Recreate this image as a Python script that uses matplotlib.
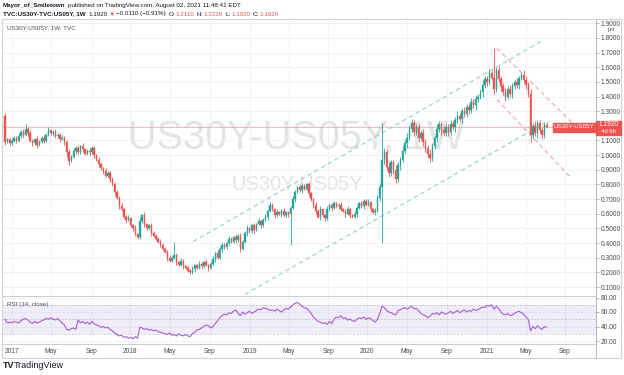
import matplotlib
matplotlib.use("Agg")
import matplotlib.pyplot as plt
from matplotlib.patches import Rectangle

plt.rcParams['font.family'] = ['Liberation Sans', 'DejaVu Sans']

# weekly US30Y-US05Y spread, pct
first_open = 1.27
close = [
    1.09, 1.11, 1.08, 1.10, 1.12, 1.10, 1.13, 1.16, 1.14, 1.18,
    1.15, 1.10, 1.08, 1.11, 1.07, 1.09, 1.12, 1.10, 1.14, 1.17,
    1.15, 1.16, 1.13, 1.14, 1.11, 1.12, 1.09, 1.02, 0.96, 0.99,
    1.03, 1.05, 1.02, 1.06, 1.04, 1.01, 1.03, 1.02, 1.05, 1.00,
    0.97, 0.94, 0.91, 0.89, 0.86, 0.88, 0.84, 0.80, 0.75, 0.71,
    0.65, 0.63, 0.58, 0.56, 0.57, 0.52, 0.50, 0.46, 0.44, 0.55,
    0.59, 0.53, 0.50, 0.52, 0.47, 0.45, 0.43, 0.41, 0.39, 0.36,
    0.34, 0.30, 0.28, 0.30, 0.32, 0.27, 0.25, 0.28, 0.24, 0.23,
    0.21, 0.20, 0.22, 0.25, 0.23, 0.26, 0.24, 0.27, 0.25, 0.23,
    0.26, 0.29, 0.33, 0.30, 0.36, 0.39, 0.37, 0.40, 0.43, 0.41,
    0.44, 0.42, 0.45, 0.36, 0.41, 0.47, 0.50, 0.48, 0.52, 0.49,
    0.53, 0.55, 0.52, 0.56, 0.58, 0.62, 0.66, 0.63, 0.59, 0.61,
    0.60, 0.62, 0.59, 0.61, 0.60, 0.64, 0.70, 0.75, 0.78, 0.76,
    0.79, 0.77, 0.80, 0.74, 0.70, 0.66, 0.62, 0.58, 0.63, 0.59,
    0.57, 0.63, 0.66, 0.64, 0.67, 0.65, 0.66, 0.63, 0.62, 0.60,
    0.63, 0.59, 0.58, 0.60, 0.64, 0.67, 0.65, 0.69, 0.66, 0.68,
    0.63, 0.61, 0.62, 0.71, 0.78, 0.97, 1.02, 0.92, 0.88, 0.95,
    0.90, 0.84, 0.93, 0.97, 1.03, 1.08, 1.12, 1.18, 1.22, 1.16,
    1.19, 1.12, 1.15, 1.09, 1.05, 1.01, 0.98, 1.06, 1.12, 1.18,
    1.21, 1.17, 1.15, 1.19, 1.16, 1.21, 1.19, 1.24, 1.27, 1.25,
    1.30, 1.28, 1.33, 1.31, 1.36, 1.34, 1.38, 1.40, 1.43, 1.48,
    1.52, 1.50, 1.56, 1.53, 1.45, 1.58, 1.52, 1.47, 1.43, 1.40,
    1.45, 1.42, 1.47, 1.50, 1.48, 1.53, 1.55, 1.51, 1.48, 1.42,
    1.14, 1.20, 1.15, 1.22, 1.17, 1.14, 1.203, 1.192,
]
# wick lengths above / below the body, in hundredths
up_wick = [
    2, 1, 1, 2, 1, 1, 2, 1, 2, 3,  1, 2, 1, 1, 2, 1, 1, 2, 1, 2,
    1, 1, 2, 1, 1, 2, 1, 1, 2, 1,  2, 1, 1, 1, 2, 1, 1, 2, 1, 1,
    1, 2, 1, 1, 2, 1, 1, 1, 2, 1,  1, 2, 1, 1, 2, 1, 1, 2, 1, 3,
    1, 2, 1, 1, 2, 1, 1, 1, 2, 1,  1, 1, 2, 1, 9, 1, 1, 2, 1, 1,
    1, 1, 2, 1, 1, 2, 1, 1, 2, 1,  1, 2, 1, 2, 1, 2, 1, 1, 2, 1,
    1, 2, 1, 2, 1, 1, 2, 1, 1, 2,  1, 2, 1, 1, 2, 1, 2, 1, 1, 2,
    1, 1, 2, 1, 1, 1, 2, 1, 1, 2,  2, 1, 1, 2, 1, 1, 2, 1, 2, 1,
    1, 2, 1, 1, 2, 1, 1, 2, 1, 1,  2, 1, 1, 2, 1, 1, 2, 1, 1, 2,
    1, 1, 2, 2, 3, 25, 3, 2, 3, 2,  2, 3, 2, 2, 3, 2, 3, 2, 3, 2,
    2, 3, 2, 3, 2, 2, 3, 2, 2, 3,  2, 2, 3, 2, 2, 3, 2, 2, 3, 2,
    2, 3, 2, 2, 3, 2, 3, 2, 2, 3,  2, 2, 3, 2, 20, 2, 3, 2, 2, 3,
    2, 3, 2, 2, 3, 1, 2, 3, 2, 2,  3, 2, 3, 2, 2, 2, 2, 2,
]
dn_wick = [
    2, 1, 2, 1, 1, 2, 1, 1, 2, 1,  2, 1, 2, 1, 2, 1, 1, 2, 1, 1,
    1, 2, 1, 1, 2, 1, 2, 3, 3, 1,  1, 2, 1, 1, 2, 1, 1, 2, 1, 2,
    1, 2, 1, 2, 1, 1, 2, 1, 2, 1,  2, 1, 1, 2, 1, 1, 2, 1, 1, 1,
    1, 2, 1, 1, 2, 1, 1, 1, 2, 1,  1, 2, 1, 1, 1, 2, 1, 1, 2, 1,
    1, 1, 1, 2, 1, 1, 2, 1, 1, 2,  1, 1, 2, 1, 1, 2, 1, 1, 2, 1,
    1, 2, 1, 2, 1, 1, 2, 1, 1, 2,  1, 1, 2, 1, 1, 2, 1, 1, 2, 1,
    1, 2, 1, 1, 2, 21, 1, 2, 1, 1,  2, 1, 1, 2, 1, 2, 2, 1, 2, 1,
    2, 1, 1, 2, 1, 1, 2, 1, 1, 2,  1, 2, 1, 1, 2, 1, 1, 2, 1, 1,
    2, 1, 2, 1, 2, 38, 3, 2, 3, 2,  3, 3, 2, 3, 2, 2, 3, 2, 2, 3,
    2, 3, 2, 3, 3, 3, 3, 2, 2, 3,  2, 3, 2, 2, 3, 2, 2, 3, 2, 2,
    3, 2, 2, 3, 2, 2, 3, 2, 2, 3,  2, 3, 2, 2, 3, 2, 2, 3, 2, 3,
    2, 2, 3, 2, 2, 3, 2, 2, 3, 2,  5, 3, 2, 3, 2, 3, 2, 1,
]
# RSI(14, close)
rsi = [
    50, 45, 46, 45, 47, 46, 45, 48, 50, 51, 49, 46, 44, 47, 45, 46,
    48, 49, 51, 50, 52, 50, 49, 51, 48, 45, 42, 36, 35, 37, 38, 36,
    49, 45, 47, 44, 46, 43, 47, 44, 42, 41, 39, 40, 38, 39, 36, 34,
    31, 29, 27, 28, 25, 26, 24, 25, 23, 26, 24, 39, 38, 36, 37, 35,
    36, 34, 35, 33, 32, 31, 30, 29, 31, 28, 29, 27, 30, 28, 27, 29,
    27, 26, 30, 32, 35, 36, 38, 40, 42, 41, 38, 40, 44, 48, 52, 55,
    57, 56, 59, 58, 61, 63, 58, 55, 60, 57, 59, 61, 58, 60, 62, 64,
    63, 66, 65, 64, 62, 63, 61, 64, 62, 60, 63, 65, 64, 67, 70, 72,
    73, 71, 68, 66, 65, 62, 58, 53, 50, 47, 46, 44, 45, 43, 47, 44,
    50, 53, 52, 55, 51, 52, 49, 50, 48, 47, 50, 52, 51, 53, 50, 52,
    51, 48, 46, 50, 58, 68, 66, 62, 60, 59, 57, 56, 62, 63, 65, 66,
    64, 66, 68, 64, 65, 62, 58, 56, 55, 52, 54, 58, 57, 59, 56, 60,
    58, 57, 59, 61, 58, 60, 62, 59, 61, 63, 60, 62, 61, 64, 62, 63,
    65, 67, 66, 69, 68, 70, 64, 68, 65, 60, 57, 56, 58, 55, 56, 58,
    60, 61, 59, 57, 53, 50, 34, 40, 37, 41, 38, 36, 40, 39,
]
assert len(close) == len(up_wick) == len(dn_wick) == len(rsi)

time_labels = ["2017", "May", "Sep", "2018", "May", "Sep", "2019", "May", "Sep",
               "2020", "May", "Sep", "2021", "May", "Sep"]
time_pos = [3.1, 20.1, 38.1, 54.7, 72.2, 89.7, 107.2, 124.3, 141.4,
            158.4, 175.9, 193.4, 210.9, 228.0, 245.1]
price_ticks = [0.1, 0.2, 0.3, 0.4, 0.5, 0.6, 0.7, 0.8, 0.9, 1.0,
               1.1, 1.2, 1.3, 1.4, 1.5, 1.6, 1.7, 1.8, 1.9]
rsi_ticks = [20, 40, 60, 80]

# drawn channels: (bar index start, end), (value start, end)
green_upper = ([82.3, 235.0], [0.41, 1.78])
green_lower = ([105.0, 236.3], [0.05, 1.22])
red_upper = ([215.3, 249.5], [1.73, 1.20])
red_lower = ([215.3, 248.0], [1.38, 0.84])
last_price = 1.1920

UP, DOWN = '#26a69a', '#ef5350'
GRID = '#edf0f6'
TXT = '#131722'
W, H = 624, 375


def box(l, t, r, b):
    return [l / W, 1 - b / H, (r - l) / W, (b - t) / H]


fig = plt.figure(figsize=(W / 100, H / 100), dpi=100)
fig.patch.set_facecolor('white')

ax = fig.add_axes(box(2, 19, 596, 296))
ax2 = fig.add_axes(box(2, 297, 596, 344), sharex=ax)

opens = [first_open] + close[:-1]
idx = list(range(len(close)))
highs = [max(o, c) + u / 100 for o, c, u in zip(opens, close, up_wick)]
lows = [min(o, c) - d / 100 for o, c, d in zip(opens, close, dn_wick)]
cols = [UP if c >= o else DOWN for o, c in zip(opens, close)]

ax.vlines(idx, lows, highs, colors=cols, linewidth=0.6, zorder=3)
ax.bar(idx, [c - o for o, c in zip(opens, close)], bottom=opens, width=0.62,
       color=cols, edgecolor=cols, linewidth=0.3, zorder=4)

for (xs, ys), col in [(green_upper, '#8fd6ad'), (green_lower, '#8fd6ad'),
                      (red_upper, '#f4a3a3'), (red_lower, '#f4a3a3')]:
    ax.plot(xs, ys, color=col, linewidth=0.8, dashes=(4, 3), zorder=2)

ax.axhline(last_price, color=DOWN, linewidth=0.6, alpha=0.45, zorder=1)

# watermark
ax.text(0.495, 0.572, "US30Y-US05Y, 1W", transform=ax.transAxes, ha='center',
        va='center', fontsize=28.5, color='#e3e3e3', zorder=0)
ax.text(0.497, 0.401, "US30Y-US05Y", transform=ax.transAxes, ha='center',
        va='center', fontsize=14.5, color='#e3e3e3', zorder=0)
ax.text(0.008, 0.97, "US30Y-US05Y, 1W, TVC", transform=ax.transAxes,
        fontsize=4.5, color='#4a4a4a', va='center')

ax.set_xlim((2 - 5) / 2.285, (596 - 5) / 2.285)
ax.set_ylim(0.1 + (287 - 296) / 146.5, 0.1 + (287 - 19) / 146.5)
ax.set_yticks(price_ticks)
# 1.2000 sits under the last-price tag
ax.set_yticklabels(["" if v == 1.2 else f"{v:.4f}" for v in price_ticks])
ax.yaxis.tick_right()
ax.set_xticks(time_pos)
ax.tick_params(axis='x', length=0, labelbottom=False)
ax.tick_params(axis='y', length=2, width=0.5, color='#9598a1', labelsize=4.8,
               labelcolor='#4a4a4a', pad=1.5)
ax.grid(True, color=GRID, linewidth=0.6)
ax.set_axisbelow(True)
for s in ['left', 'top']:
    ax.spines[s].set_visible(False)
ax.spines['right'].set_color('#b2b5be')
ax.spines['bottom'].set_color('#c9ccd3')
ax.spines['right'].set_linewidth(0.7)
ax.spines['bottom'].set_linewidth(0.7)

# RSI pane
ax2.axhspan(30, 70, color='#7e57c2', alpha=0.1, linewidth=0)
for lv in [70, 50, 30]:
    ax2.axhline(lv, color='#9598a1', linewidth=0.5, dashes=(3, 2), alpha=0.6)
ax2.plot(idx, rsi, color='#a35fd0', linewidth=0.8)
ax2.text(0.008, 0.84, "RSI (14, close)", transform=ax2.transAxes,
         fontsize=4.5, color='#4a4a4a', va='center')
ax2.set_ylim(20 + (341 - 344) / 0.725, 20 + (341 - 297) / 0.725)
ax2.set_yticks(rsi_ticks)
ax2.set_yticklabels([f"{v:.2f}" for v in rsi_ticks])
ax2.yaxis.tick_right()
ax2.set_xticks(time_pos)
ax2.set_xticklabels(time_labels)
ax2.tick_params(axis='x', length=0, labelsize=4.8, labelcolor='#4a4a4a', pad=3)
ax2.tick_params(axis='y', length=2, width=0.5, color='#9598a1', labelsize=4.8,
                labelcolor='#4a4a4a', pad=1.5)
ax2.grid(True, color=GRID, linewidth=0.6)
ax2.set_axisbelow(True)
for s in ['left', 'top']:
    ax2.spines[s].set_visible(False)
ax2.spines['right'].set_color('#b2b5be')
ax2.spines['bottom'].set_color('#c9ccd3')
ax2.spines['right'].set_linewidth(0.7)
ax2.spines['bottom'].set_linewidth(0.7)

# outer frame and right strip
fig.patches.append(Rectangle((2 / W, 1 - 358 / H), 619 / W, 339 / H, fill=False,
                             edgecolor='#cfd2d8', linewidth=0.8,
                             transform=fig.transFigure))
fig.lines.append(plt.Line2D([596 / W, 596 / W], [1 - 358 / H, 1 - 344 / H],
                            color='#b2b5be', linewidth=0.7,
                            transform=fig.transFigure))
fig.text(611 / W, 1 - 30 / H, "pct", fontsize=4, color='#4a4a4a',
         ha='center', va='center')

# last price tags
fig.patches.append(Rectangle((596 / W, 1 - 135 / H), 25 / W, 14 / H,
                             color=DOWN, transform=fig.transFigure, zorder=5))
fig.text(608.5 / W, 1 - 125 / H, "1.1920", fontsize=4.8, color='white',
         ha='center', va='center', zorder=6)
fig.text(608.5 / W, 1 - 131.5 / H, "4d 6h", fontsize=4.3, color='white',
         ha='center', va='center', zorder=6)
fig.patches.append(Rectangle((553 / W, 1 - 131.5 / H), 42 / W, 9 / H,
                             color=DOWN, transform=fig.transFigure, zorder=5))
fig.text(574 / W, 1 - 127 / H, "US30Y-US05Y", fontsize=4.4, color='white',
         ha='center', va='center', zorder=6)

# header
r = fig.canvas.get_renderer()
FS = 4.5
t0 = fig.text(3 / W, 1 - 5 / H, "Mayor_of_Smiletown", fontsize=FS,
              fontweight='bold', color=TXT, va='center')
x = t0.get_window_extent(r).x1 + 2
fig.text(x / W, 1 - 5 / H, "published on TradingView.com, August 02, 2021 11:48:41 EDT",
         fontsize=FS, color=TXT, va='center')

pieces = [("TVC:US30Y-TVC:US05Y, 1W", TXT, 'bold', 2.5),
          ("1.1920", TXT, 'normal', 1.5),
          ("\u25bc", DOWN, 'normal', 1.5),
          ("\u22120.0110 (\u22120.91%)", TXT, 'normal', 2.5),
          ("O:", TXT, 'normal', 0.5), ("1.2110", DOWN, 'normal', 2.5),
          ("H:", TXT, 'normal', 0.5), ("1.2220", DOWN, 'normal', 2.5),
          ("L:", TXT, 'normal', 0.5), ("1.1920", DOWN, 'normal', 2.5),
          ("C:", TXT, 'normal', 0.5), ("1.1920", DOWN, 'normal', 2.5)]
x = 3
for txt, col, wt, gap in pieces:
    t = fig.text(x / W, 1 - 14 / H, txt, fontsize=FS, color=col, fontweight=wt,
                 va='center')
    x = t.get_window_extent(r).x1 + gap

# footer logo
fig.text(3 / W, 1 - 366 / H, "TV", fontsize=6.5, fontweight='bold',
         color=TXT, va='center')
fig.text(14 / W, 1 - 366 / H, "TradingView", fontsize=6.5, color=TXT,
         va='center')

fig.savefig("out.png", dpi=100, facecolor='white')
